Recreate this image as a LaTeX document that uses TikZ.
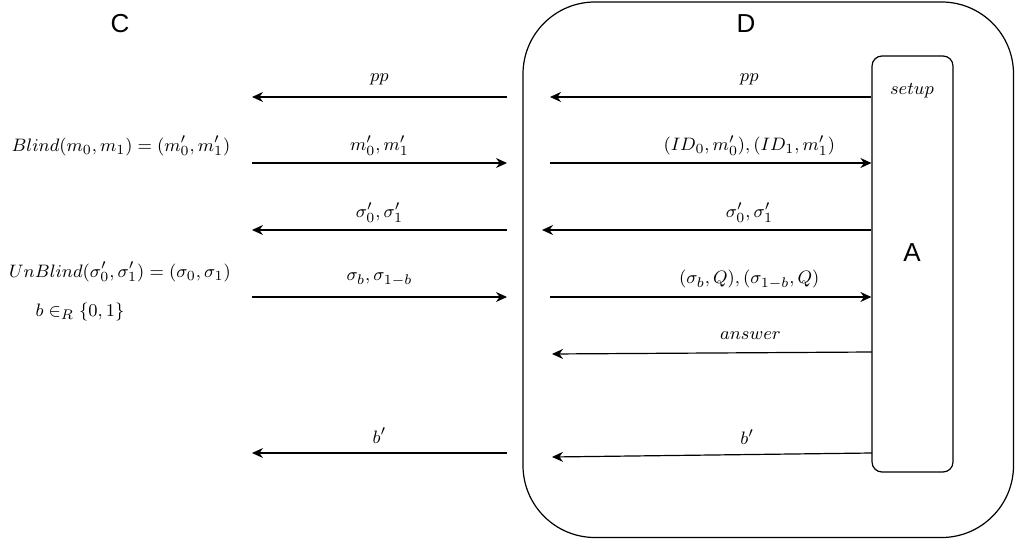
\documentclass[tikz,border=0pt]{standalone}
\usepackage{fontspec}
\newfontfamily\partyfont{Liberation Sans}
\usepackage{tikz}
\usetikzlibrary{arrows.meta}

\tikzset{
    msg/.style={-{Stealth[length=5.5pt, width=5pt, inset=1.8pt]}, line width=0.6pt},
    msglabel/.style={anchor=center, yshift=8.75pt},
    party/.style={font=\partyfont\fontsize{13}{15}\selectfont},
    partybox/.style={draw, line width=0.6pt, inner sep=0pt},
}

\begin{document}
\begin{tikzpicture}[x=0.5pt, y=-0.5pt, every node/.style={font=\fontsize{9.5}{11}\selectfont}]
            \useasboundingbox (0,0) rectangle (1015,539);
            % Parties
            \node[party] (C) at (120, 24) {C};
            \node[partybox, minimum width=245.25pt, minimum height=267.75pt, rounded corners=36pt]
                 (boxD) at (768.25, 269.75) {};
            \node[party] (D) at (746, 24) {D};
            \node[partybox, minimum width=40.5pt, minimum height=208pt, rounded corners=5pt]
                 (boxA) at (912.5, 264) {};
            \node[party] (A) at (912, 253) {A};
            \node (setup) at (912, 91) {$setup$};
            % Client computations
            \node (blind)   at (121, 146) {$Blind(m_0, m_1) = (m'_0, m'_1)$};
            \node (unblind) at (120, 272) {$UnBlind(\sigma'_0, \sigma'_1) = (\sigma_0, \sigma_1)$};
            \node (coin)    at ( 80, 312) {$b \in_R \{0, 1\}$};
            % End points between C and D
            \coordinate (ppCl)  at (252,  97);  \coordinate (ppCr)  at (507,  97);
            \coordinate (msgCl) at (252, 163);  \coordinate (msgCr) at (507, 163);
            \coordinate (sigCl) at (252, 230);  \coordinate (sigCr) at (507, 230);
            \coordinate (selCl) at (252, 297);  \coordinate (selCr) at (507, 297);
            \coordinate (bCl)   at (252, 453);  \coordinate (bCr)   at (507, 453);
            % End points inside D
            \coordinate (ppDl)  at (550,  97);
            \coordinate (msgDl) at (550, 163);
            \coordinate (sigDl) at (542, 230);
            \coordinate (selDl) at (550, 297);
            \coordinate (ansDl) at (552, 354);  \coordinate (ansA) at (872, 352);
            \coordinate (bDl)   at (552, 457);  \coordinate (bA)   at (872, 453);
            % Messages C <-> D
            \draw[msg] (ppCr)  -- (ppCl)  node[msglabel, midway] {$pp$};
            \draw[msg] (msgCl) -- (msgCr) node[msglabel, midway] {$m'_0, m'_1$};
            \draw[msg] (sigCr) -- (sigCl) node[msglabel, midway] {$\sigma'_0, \sigma'_1$};
            \draw[msg] (selCl) -- (selCr) node[msglabel, midway] {$\sigma_b, \sigma_{1-b}$};
            \draw[msg] (bCr)   -- (bCl)   node[msglabel, midway] {$b'$};
            % Messages D <-> A
            \draw[msg] (boxA.west |- ppDl)  -- (ppDl)  node[msglabel, pos=0.38] {$pp$};
            \draw[msg] (msgDl) -- (boxA.west |- msgDl) node[msglabel, pos=0.62] {$(ID_0, m'_0), (ID_1, m'_1)$};
            \draw[msg] (boxA.west |- sigDl) -- (sigDl) node[msglabel, pos=0.37] {$\sigma'_0, \sigma'_1$};
            \draw[msg] (selDl) -- (boxA.west |- selDl) node[msglabel, pos=0.62] {$(\sigma_b, Q), (\sigma_{1-b}, Q)$};
            \draw[msg] (ansA)  -- (ansDl) node[msglabel, pos=0.38] {$answer$};
            \draw[msg] (bA)    -- (bDl)   node[msglabel, pos=0.39] {$b'$};
        \end{tikzpicture}
\end{document}
